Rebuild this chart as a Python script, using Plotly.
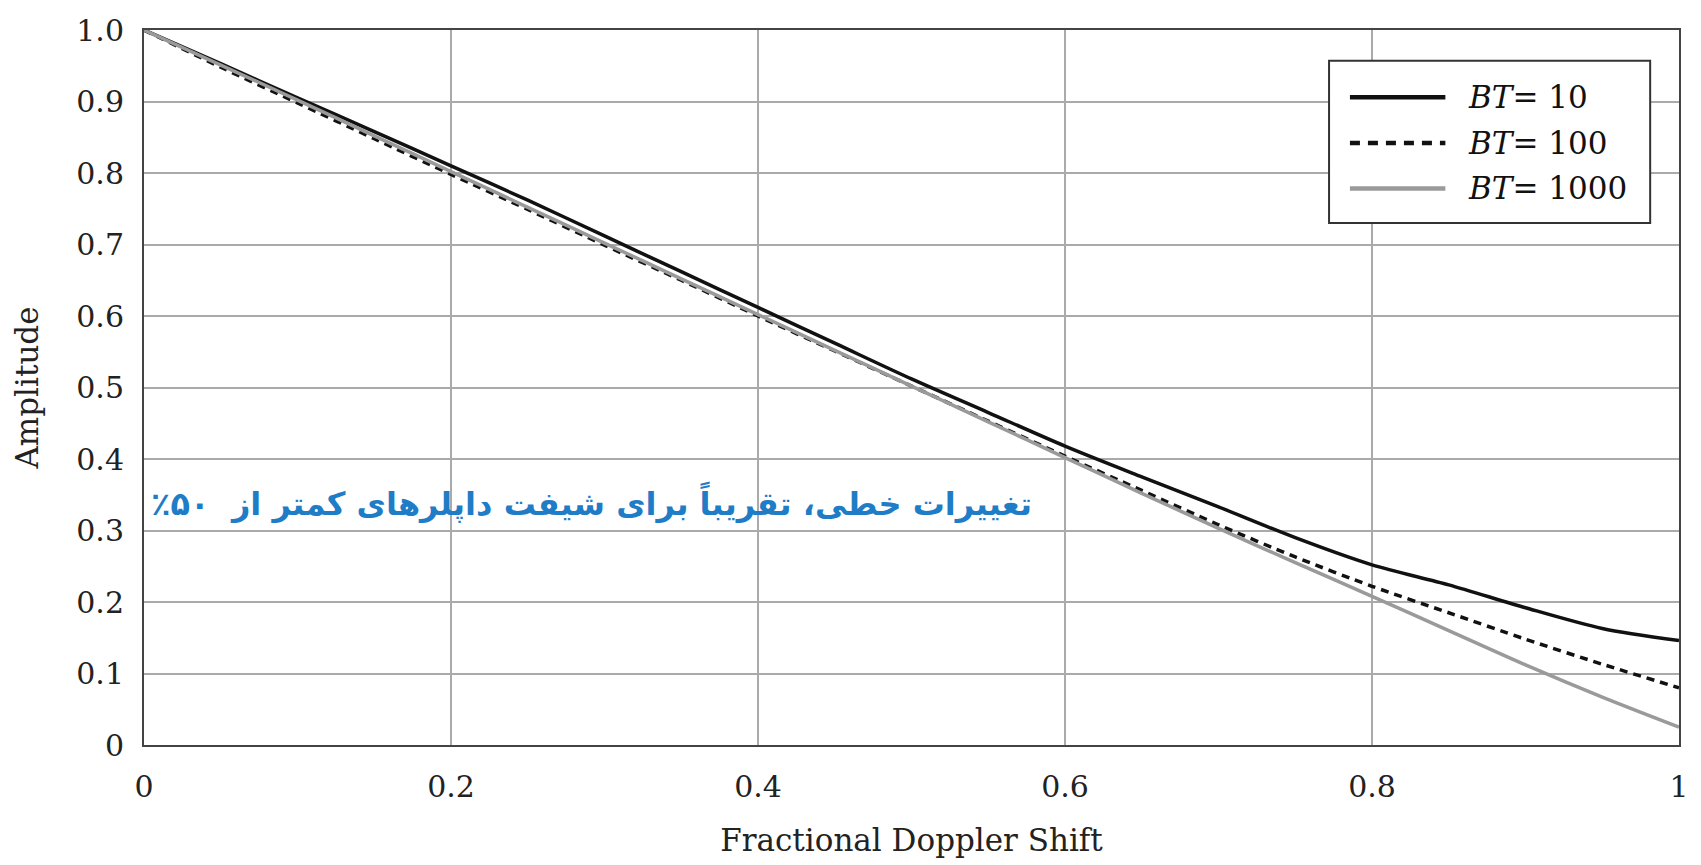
import plotly.graph_objects as go

# Data
doppler = [0.0, 0.05, 0.1, 0.15, 0.2, 0.25, 0.3, 0.35, 0.4, 0.45, 0.5,
           0.55, 0.6, 0.65, 0.7, 0.75, 0.8, 0.85, 0.9, 0.95, 1.0]
bt10 = [1.0, 0.953, 0.905, 0.858, 0.81, 0.762, 0.712, 0.662, 0.612, 0.562, 0.512,
        0.465, 0.418, 0.375, 0.333, 0.29, 0.252, 0.224, 0.192, 0.163, 0.146]
bt100 = [1.0, 0.948, 0.898, 0.848, 0.798, 0.749, 0.699, 0.650, 0.600, 0.551, 0.502,
         0.453, 0.404, 0.356, 0.308, 0.263, 0.222, 0.185, 0.148, 0.113, 0.08]
bt1000 = [1.0, 0.951, 0.902, 0.852, 0.802, 0.752, 0.702, 0.652, 0.602, 0.552, 0.502,
          0.452, 0.402, 0.352, 0.303, 0.255, 0.208, 0.16, 0.112, 0.067, 0.025]

series_names = ["<i>BT</i>= 10", "<i>BT</i>= 100", "<i>BT</i>= 1000"]
x_tickvals = [0, 0.2, 0.4, 0.6, 0.8, 1.0]
x_ticktext = ["0", "0.2", "0.4", "0.6", "0.8", "1"]
y_tickvals = [0, 0.1, 0.2, 0.3, 0.4, 0.5, 0.6, 0.7, 0.8, 0.9, 1.0]
y_ticktext = ["0", "0.1", "0.2", "0.3", "0.4", "0.5", "0.6", "0.7", "0.8", "0.9", "1.0"]
annotation_text = "تغییرات خطی، تقریباً برای شیفت داپلرهای کمتر از  ۵۰٪"

styles = [
    dict(color="#111111", width=3.5, dash="solid"),
    dict(color="#111111", width=3.5, dash="8px,6px"),
    dict(color="#9a9a9a", width=3.5, dash="solid"),
]

fig = go.Figure()
for name, ys, st in zip(series_names, [bt10, bt100, bt1000], styles):
    fig.add_trace(go.Scatter(x=doppler, y=ys, mode="lines", name=name,
                             line=dict(**st, shape="spline", smoothing=0.8),
                             showlegend=False))

SERIF = "DejaVu Serif"

# plot area geometry (pixels) for custom legend placement
L, T, R, B = 144, 23, 13, 120
W, H = 1701, 865
pw, ph = W - L - R, H - T - B
def px(x):
    return (x - L) / pw
def py(y):
    return (H - B - y) / ph

shapes = [dict(type="rect", xref="paper", yref="paper",
               x0=px(1336), x1=px(1659), y0=py(218), y1=py(54),
               line=dict(color="#333333", width=2), fillcolor="white", layer="above")]
annotations = []
rows_y = [91, 137, 183]
for name, st, ry in zip(series_names, styles, rows_y):
    shapes.append(dict(type="line", xref="paper", yref="paper",
                       x0=px(1357), x1=px(1453), y0=py(ry), y1=py(ry),
                       line=dict(color=st["color"], width=4.5,
                                 dash="10px,8px" if st["dash"] != "solid" else "solid"),
                       layer="above"))
    annotations.append(dict(xref="paper", yref="paper", x=px(1474), y=py(ry),
                            text=name, showarrow=False, xanchor="left", yanchor="middle",
                            font=dict(family=SERIF, size=31, color="#111111")))

annotations.append(dict(xref="paper", yref="paper", x=px(594), y=py(500),
                        text="<b>\u202b" + annotation_text + "\u200f\u202c</b>", showarrow=False,
                        xanchor="center", yanchor="middle",
                        font=dict(family="DejaVu Sans", size=32, color="#1f7cc6")))

fig.update_layout(
    width=W, height=H,
    margin=dict(l=L, r=R, t=T, b=B),
    plot_bgcolor="white", paper_bgcolor="white",
    shapes=shapes, annotations=annotations,
    font=dict(family=SERIF, size=30, color="#222222"),
    xaxis=dict(range=[0, 1], tickvals=x_tickvals, ticktext=x_ticktext,
               showgrid=True, gridcolor="#aaaaaa", gridwidth=1.5,
               showline=True, linecolor="#444444", linewidth=2, mirror=True,
               ticks="", ticklabelstandoff=14, zeroline=False,
               title=dict(text="Fractional Doppler Shift", standoff=26,
                          font=dict(family=SERIF, size=31))),
    yaxis=dict(range=[0, 1], tickvals=y_tickvals, ticktext=y_ticktext,
               showgrid=True, gridcolor="#aaaaaa", gridwidth=1.5,
               showline=True, linecolor="#444444", linewidth=2, mirror=True,
               ticks="", ticklabelstandoff=12, zeroline=False,
               title=dict(text="Amplitude", standoff=28,
                          font=dict(family=SERIF, size=31))),
)

fig.write_html("out.html")
